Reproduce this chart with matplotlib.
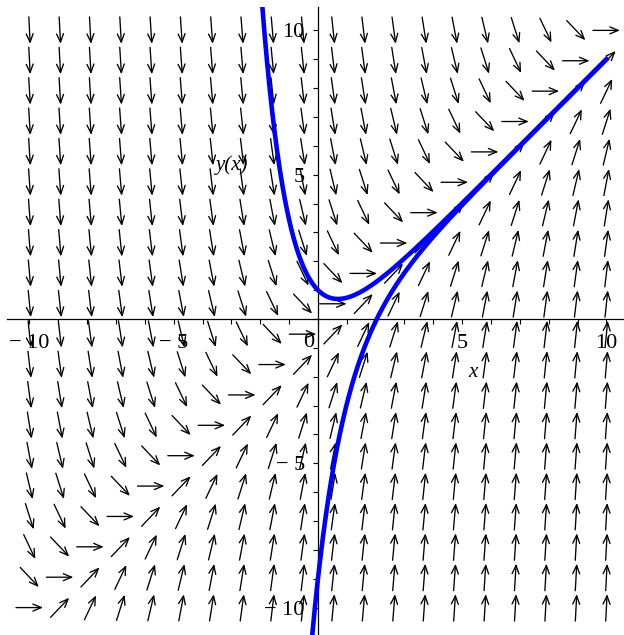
import numpy as np
import matplotlib.pyplot as plt

plt.rcParams['font.family'] = ['Liberation Serif', 'DejaVu Serif']

# direction field of dy/dx = x - y, with two solution curves
x_start = 0
y_init = [1, -9]          # y(0) for the two curves
x_end = 10
grid_n = 20
field_min, field_max = -10, 10
x_ticks = [-10, -5, 5, 10]
x_ticklabels = ['\u2212 10', '\u2212 5', '5', '10']
y_ticks = [-10, -5, 5, 10]
y_ticklabels = ['\u2212 10', '\u2212 5', '5', '10']


def slope(x, y):
    return x - y


fig = plt.figure(figsize=(6.24, 6.35), dpi=100)
ax = fig.add_axes([7 / 624, 0, 617 / 624, 628 / 635])
ax.set_xlim(-10.78, 10.61)
ax.set_ylim(-10.95, 10.81)

# arrows, all the same length, centred on the grid points
gx, gy = np.meshgrid(np.linspace(field_min, field_max, grid_n),
                     np.linspace(field_min, field_max, grid_n))
s = slope(gx, gy)
L = 0.935
dx = L / 2 / np.sqrt(1 + s ** 2)
dy = s * dx
for xc, yc, ux, uy in zip(gx.ravel(), gy.ravel(), dx.ravel(), dy.ravel()):
    ax.annotate('', xy=(xc + ux, yc + uy), xytext=(xc - ux, yc - uy),
                arrowprops=dict(arrowstyle='->,head_length=0.6,head_width=0.25',
                                lw=0.95, color='black', shrinkA=0, shrinkB=0,
                                mutation_scale=10))

# solution curves y = x - 1 + C exp(-x)
xx = np.linspace(-3, x_end, 1500)
for y0 in y_init:
    C = (y0 - x_start + 1) * np.exp(x_start)
    yy = xx - 1 + C * np.exp(-xx)
    m = (yy > -11.2) & (yy < 11.0)
    ax.plot(xx[m], yy[m], color='#0000ff', lw=3.3, zorder=5)

# axes through the origin
for side in ['top', 'right']:
    ax.spines[side].set_visible(False)
ax.spines['left'].set_position(('data', 0))
ax.spines['bottom'].set_position(('data', 0))
ax.spines['left'].set_linewidth(0.9)
ax.spines['bottom'].set_linewidth(0.9)

ax.set_xticks(x_ticks)
ax.set_xticklabels(x_ticklabels)
ax.set_yticks(y_ticks)
ax.set_yticklabels(y_ticklabels)
ax.set_xticks(np.arange(-10, 11), minor=True)
ax.set_yticks(np.arange(-10, 11), minor=True)
ax.tick_params(which='both', direction='out', length=3.5, width=0.8)
ax.tick_params(axis='x', which='major', labelsize=16, pad=7)
ax.tick_params(axis='y', which='major', labelsize=16, pad=6)
ax.text(-0.32, -0.8, '0', fontsize=16, ha='center', va='center')

ax.text(5.37, -1.87, 'x', fontsize=15, style='italic', ha='center', va='center')
ax.text(-2.98, 5.34, 'y(x)', fontsize=15, style='italic', ha='center', va='center')

fig.savefig('out.png', dpi=100)
